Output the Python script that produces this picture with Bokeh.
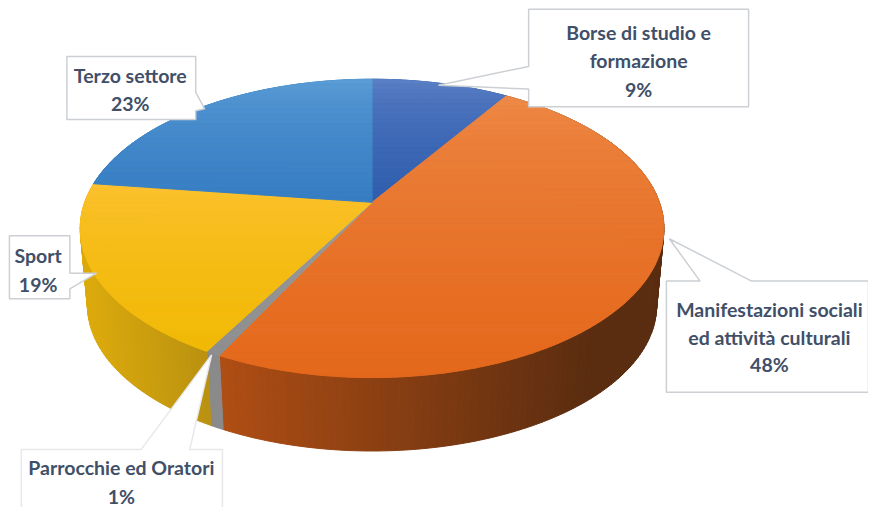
import math
from bokeh.plotting import figure
from bokeh.embed import file_html
from bokeh.resources import INLINE
from bokeh.core.properties import value

# Data
categories = ["Borse di studio e formazione", "Manifestazioni sociali ed attività culturali",
              "Parrocchie ed Oratori", "Sport", "Terzo settore"]
shares = [9.0, 48.4, 0.7, 19.0, 22.9]          # wedge sizes
label_lines = [["Borse di studio e", "formazione", "9%"],
               ["Manifestazioni sociali", "ed attività culturali", "48%"],
               ["Parrocchie ed Oratori", "1%"],
               ["Sport", "19%"],
               ["Terzo settore", "23%"]]
top_colors = [("#5f83c8", "#2f5dad"), ("#ef8d4c", "#e4681b"), ("#a0a0a0", "#8e8e8e"),
              ("#fdc234", "#f1b905"), ("#5fa0d8", "#367dc2")]
side_colors = [("#2c5aa8", "#2c5aa8"), ("#b04e14", "#5a2c10"), ("#8a8a8a", "#8a8a8a"),
               ("#dcaa0c", "#b89010"), ("#2f78bd", "#2f78bd")]
TEXT = "#414f68"
BORDER = "#ccd0d4"
BORDER_SOFT = "#e6e8ea"

# Layout of the projected pie
CX, CY, B, A, K = 375.0, 205.0, 290.0, 146.9, 0.175
DROP, SHRINK = 79.0, 0.975
W, H, M = 876, 515, 8


def proj(f, bottom=False):
    t = 2 * math.pi * f
    u, v = math.sin(t), math.cos(t)
    d = 1 + K * v
    s = SHRINK if bottom else 1.0
    return (CX + s * B * u / d, CY + (DROP if bottom else 0) - s * A * v / d)


def hexmix(c0, c1, t):
    t = max(0.0, min(1.0, t))
    a = [int(c0[i:i + 2], 16) for i in (1, 3, 5)]
    b = [int(c1[i:i + 2], 16) for i in (1, 3, 5)]
    return "#%02x%02x%02x" % tuple(round(p + (q - p) * t) for p, q in zip(a, b))


def clip_band(poly, y0, y1):
    def clip(pts, inside, cross):
        out = []
        for i, p in enumerate(pts):
            q = pts[(i + 1) % len(pts)]
            if inside(p):
                out.append(p)
            if inside(p) != inside(q):
                out.append(cross(p, q))
        return out

    def at(yv):
        return lambda p, q: (p[0] + (q[0] - p[0]) * (yv - p[1]) / (q[1] - p[1]), yv)

    r = clip(poly, lambda p: p[1] >= y0, at(y0))
    if r:
        r = clip(r, lambda p: p[1] <= y1, at(y1))
    return r


p = figure(width=W - M, height=H - M, x_range=(0, W), y_range=(H, 0),
           output_backend="svg", toolbar_location=None, min_border=0)
p.axis.visible = False
p.grid.visible = False
p.outline_line_color = None
p.background_fill_color = "#ffffff"
p.border_fill_color = "#ffffff"

total = sum(shares)
fr = [0.0]
for s in shares:
    fr.append(fr[-1] + s / total)

# Side walls
sx, sy, sc = [], [], []
for i in range(len(shares)):
    c0, c1 = side_colors[i]
    f0, f1 = fr[i], fr[i + 1]
    n = max(2, int((f1 - f0) * 300))
    for j in range(n):
        a = f0 + (f1 - f0) * j / n
        b = f0 + (f1 - f0) * (j + 1) / n
        pa, pb, qa, qb = proj(a), proj(b), proj(a, True), proj(b, True)
        sx.append([pa[0], pb[0], qb[0], qa[0]])
        sy.append([pa[1], pb[1], qb[1], qa[1]])
        x_lo, x_hi = (215, 600) if i == 1 else (85, 215)
        sc.append(hexmix(c0, c1, ((pa[0] + pb[0]) / 2 - x_lo) / (x_hi - x_lo)))
p.patches(sx, sy, fill_color=sc, line_color=sc, line_width=1)

# Top faces, in thin horizontal bands for the vertical shading
tx, ty, tc = [], [], []
for i in range(len(shares)):
    f0, f1 = fr[i], fr[i + 1]
    n = max(2, int((f1 - f0) * 300))
    poly = [(CX, CY)] + [proj(f0 + (f1 - f0) * j / n) for j in range(n + 1)]
    ymin = min(q[1] for q in poly)
    ymax = max(q[1] for q in poly)
    bands = max(1, int((ymax - ymin) / 5))
    for b in range(bands):
        y0 = ymin + (ymax - ymin) * b / bands
        y1 = ymin + (ymax - ymin) * (b + 1) / bands
        r = clip_band(poly, y0, y1)
        if len(r) >= 3:
            tx.append([q[0] for q in r])
            ty.append([q[1] for q in r])
            tc.append(hexmix(top_colors[i][0], top_colors[i][1], ((b + 0.5) / bands) ** 0.55))
p.patches(tx, ty, fill_color=tc, line_color=tc, line_width=1)

# Callouts: box (left, top, right, bottom), then leader (base a, tip, base b)
callouts = [
    ((533, 9, 755, 108), [(533, 67), (442, 86), (533, 90)], "left", BORDER),
    ((672, 285, 876, 398), [(706, 285), (675, 242), (758, 285)], "top", BORDER),
    ((21, 456, 224, 520), [(142, 456), (213, 360), (191, 456)], "top", BORDER_SOFT),
    ((9, 239, 70, 303), [(70, 277), (97, 277), (70, 293)], "right", BORDER),
    ((67, 57, 197, 121), [(197, 93), (206, 110), (197, 112)], "right", BORDER),
]
for (l, t, r, b), lead, side, edge in callouts:
    if side == "top":
        pts = [(l, t)] + lead + [(r, t), (r, b), (l, b)]
    elif side == "right":
        pts = [(l, t), (r, t)] + lead + [(r, b), (l, b)]
    else:
        pts = [(l, t), (r, t), (r, b), (l, b)] + lead[::-1]
    p.patch([q[0] for q in pts], [q[1] for q in pts], fill_color="#ffffff",
            line_color=edge, line_width=1.5)

# Label text
centers = [(644, 32), (776, 314), (122, 474), (38, 259), (131, 76)]
heights = [29, 28, 30, 29, 29]
for lines, (cx, y0), lh in zip(label_lines, centers, heights):
    p.text([cx] * len(lines), [y0 + j * lh for j in range(len(lines))], text=lines,
           text_font=value("Lato"), text_font_style="bold", text_font_size="19.5px",
           text_color=TEXT, text_align="center", text_baseline="middle")

open("out.html", "w").write(file_html(p, INLINE))
